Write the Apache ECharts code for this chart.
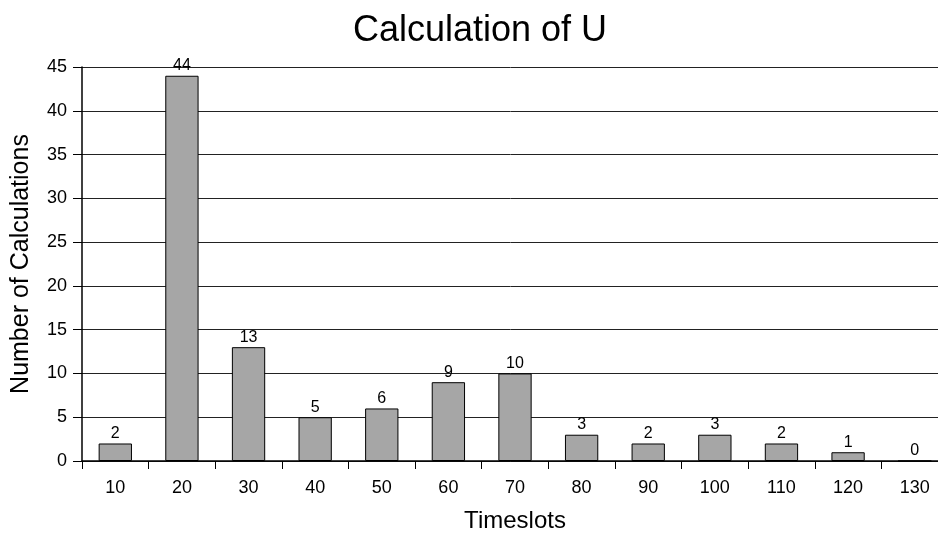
<!DOCTYPE html>
<html>
<head>
<meta charset="utf-8">
<script src="https://cdn.jsdelivr.net/npm/echarts@6/dist/echarts.min.js"></script>
<style>
  html, body { margin: 0; padding: 0; background: #fff; }
  #main { width: 938px; height: 535px; }
</style>
</head>
<body>
<div id="main"></div>
<script>
  var timeslots = ['10', '20', '30', '40', '50', '60', '70', '80', '90', '100', '110', '120', '130'];
  var calculations = [2, 44, 13, 5, 6, 9, 10, 3, 2, 3, 2, 1, 0];

  var chart = echarts.init(document.getElementById('main'));
  chart.setOption({
    animation: false,
    backgroundColor: '#fff',
    title: {
      text: 'Calculation of U',
      left: 475,
      top: 8,
      textAlign: 'center',
      textStyle: { fontFamily: 'Liberation Sans', fontSize: 36, fontWeight: 'normal', color: '#000' }
    },
    grid: { left: 82, right: -10, top: 67, bottom: 74, containLabel: false, outerBoundsMode: 'none' },
    xAxis: {
      type: 'category',
      data: timeslots,
      name: 'Timeslots',
      nameLocation: 'middle',
      nameGap: 48,
      nameTextStyle: { fontFamily: 'Liberation Sans', fontSize: 24, color: '#000' },
      axisLine: { lineStyle: { color: '#000', width: 1.5 } },
      axisTick: { show: true, length: 8, lineStyle: { color: '#000' } },
      axisLabel: { fontFamily: 'Liberation Sans', fontSize: 18, color: '#000', margin: 18 }
    },
    yAxis: {
      type: 'value',
      min: 0,
      max: 45,
      interval: 5,
      name: 'Number of Calculations',
      nameLocation: 'middle',
      nameGap: 48,
      nameTextStyle: { fontFamily: 'Liberation Sans', fontSize: 25, color: '#000' },
      axisLine: { show: true, lineStyle: { color: '#000', width: 1.5 } },
      axisTick: { show: true, length: 9, lineStyle: { color: '#000' } },
      axisLabel: { fontFamily: 'Liberation Sans', fontSize: 18, color: '#000', margin: 15 },
      splitLine: { show: true, lineStyle: { color: '#222', width: 1 } }
    },
    series: [{
      type: 'bar',
      data: calculations,
      barWidth: '50%',
      itemStyle: { color: '#a6a6a6', borderColor: '#000', borderWidth: 1 },
      label: {
        show: true,
        position: 'top',
        distance: 2,
        fontFamily: 'Liberation Sans',
        fontSize: 16,
        color: '#000'
      }
    }]
  });
</script>
</body>
</html>
